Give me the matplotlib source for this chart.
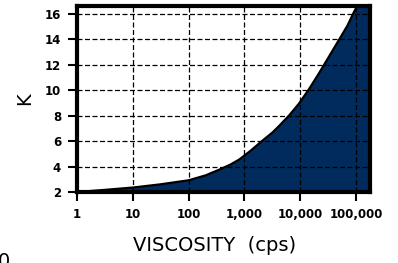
import matplotlib
matplotlib.use('Agg')
import matplotlib.pyplot as plt
import numpy as np

# curve: viscosity (cps) vs K
visc = [1, 3.2, 10, 31, 100, 200, 340, 560, 810, 1300, 2000, 3240, 4220, 6300, 9550, 14500, 21900, 33000, 50100, 70000, 91200, 105000, 178000]
k_val = [2.0, 2.17, 2.35, 2.6, 2.92, 3.3, 3.72, 4.15, 4.55, 5.25, 5.95, 6.7, 7.2, 8.0, 8.95, 10.1, 11.35, 12.65, 13.98, 15.05, 16.1, 16.6, 16.6]
x_ticks = [1, 10, 100, 1000, 10000, 100000]
x_labels = ['1', '10', '100', '1,000', '10,000', '100,000']
y_ticks = [2, 4, 6, 8, 10, 12, 14, 16]

plt.rcParams['font.family'] = ['DejaVu Sans']
fig = plt.figure(figsize=(3.98, 2.63), dpi=100)
ax = fig.add_axes([77/398, 1 - 192/263, (370 - 77)/398, (192 - 6)/263])

navy = '#002b5c'
ax.fill_between(visc, 2, k_val, color=navy, zorder=1)
ax.plot(visc[:-1], k_val[:-1], color='black', lw=1.6, zorder=3, solid_joinstyle='round')

ax.set_xscale('log')
ax.set_xlim(1, 178000)
ax.set_ylim(2, 16.6)
ax.set_xticks(x_ticks)
ax.set_xticklabels(x_labels)
ax.set_yticks(y_ticks)
ax.minorticks_off()
ax.tick_params(axis='both', direction='out', length=6.5, width=1.5, labelsize=8.5, pad=5)
for lab in ax.get_xticklabels() + ax.get_yticklabels():
    lab.set_fontweight('bold')

ax.grid(True, color='black', linestyle=(0, (4, 2)), linewidth=0.9, zorder=2)
ax.set_axisbelow(False)
for s in ax.spines.values():
    s.set_linewidth(3)
    s.set_zorder(4)

ax.set_xlabel('VISCOSITY  (cps)', fontsize=14)
ax.xaxis.set_label_coords(0.47, -0.235)
ax.set_ylabel('K', fontsize=14)
ax.yaxis.set_label_coords(-0.145, 0.5)

fig.text(-0.005, -0.03, '0', fontsize=14, ha='left', va='bottom')

fig.savefig('out.png', dpi=100)
